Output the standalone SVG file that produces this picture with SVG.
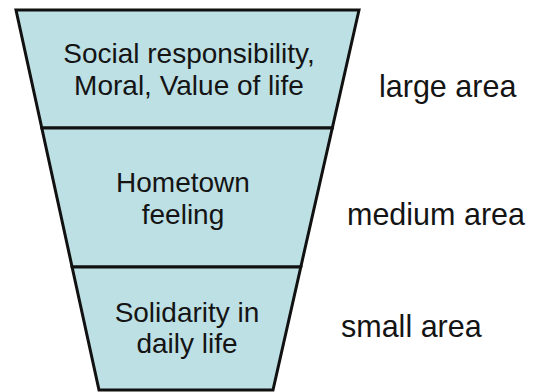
<svg xmlns="http://www.w3.org/2000/svg" width="539" height="392" viewBox="0 0 539 392">
<style>
.sec{fill:#bde0e4;stroke:#111;stroke-width:3;stroke-linejoin:miter}
.t{font-family:"Liberation Sans",Arial,sans-serif;font-size:28px;fill:#141414;text-anchor:middle}
.lbl{font-family:"Liberation Sans",Arial,sans-serif;font-size:30.5px;fill:#141414}
</style>
<rect width="539" height="392" fill="#fff"/>
<g id="top-section">
<polygon class="sec" points="16,10 359,10 332.3,128 41.8,128"/>
<text class="t" x="189" y="63">Social responsibility,</text>
<text class="t" x="189" y="95">Moral, Value of life</text>
</g>
<g id="middle-section">
<polygon class="sec" points="41.8,128 332.3,128 300.8,267 72.1,267"/>
<text class="t" x="183" y="192">Hometown</text>
<text class="t" x="183" y="224">feeling</text>
</g>
<g id="bottom-section">
<polygon class="sec" points="72.1,267 300.8,267 273,390 99,390"/>
<text class="t" x="187" y="322">Solidarity in</text>
<text class="t" x="187" y="353">daily life</text>
</g>
<g id="labels">
<text class="lbl" x="379" y="97">large area</text>
<text class="lbl" x="347" y="225">medium area</text>
<text class="lbl" x="341" y="337">small area</text>
</g>
<g id="connectors"></g>
</svg>
